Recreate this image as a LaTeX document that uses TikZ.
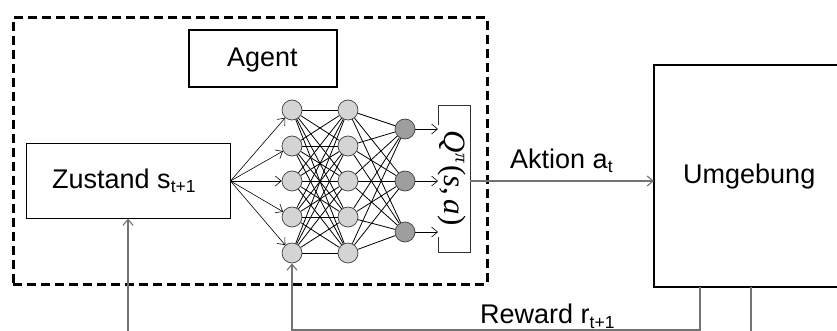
\documentclass[tikz,border=0pt]{standalone}
\usepackage{fontspec}
\setmainfont{Liberation Sans}
\newfontfamily\qserif{Liberation Serif}
\usetikzlibrary{arrows.meta}
\newcommand\mysub[1]{\raisebox{-5pt}{\fontsize{17.5}{17.5}\selectfont #1}}
\begin{document}
\begin{tikzpicture}[x=1pt,y=-1pt,
  every node/.style={font=\fontsize{27}{30}\selectfont},
  lbl/.style={anchor=base west, inner sep=0pt},
  box/.style={draw=black, line width=1pt, inner sep=0pt},
  neuron/.style={circle, draw=black!75, line width=0.7pt, minimum size=20pt, inner sep=0pt, fill=black!17},
  outn/.style={neuron, fill=black!38},
  arr/.style={-{Straight Barb[length=6pt,width=10pt]}, line width=0.6pt},
  conn/.style={line width=0.8pt, black},
  flow/.style={draw=black!55, line width=1.1pt}
]
\useasboundingbox (0,0) rectangle (837,331);

% agent region
\node[draw=black, line width=3pt, dash pattern=on 9pt off 5pt, minimum width=474pt, minimum height=266pt, inner sep=0pt] (agentregion) at (250,151) {};
\node[box, line width=1.3pt, minimum width=148pt, minimum height=57pt] (agent) at (263,58.5) {};
\node[lbl] (agentlbl) at (227,67) {Agent};

% state
\node[box, minimum width=204pt, minimum height=74pt] (zu) at (128,181) {};
\node[lbl] (zulbl) at (52,188) {Zustand s\mysub{t+1}};

% network
\foreach \i/\y in {1/110,2/146,3/181,4/217,5/253}{
  \node[neuron] (i\i) at (292,\y) {};
  \node[neuron] (h\i) at (348,\y) {};
}
\foreach \k/\y in {1/129,2/181,3/232}{
  \node[outn] (o\k) at (405,\y) {};
  \coordinate (q\k) at (438,\y);
}
\foreach \i in {1,...,5}{
  \foreach \j in {1,...,5}{\draw[conn] (i\i) -- (h\j);}
  \foreach \k in {1,2,3}{\draw[conn] (h\i) -- (o\k);}
  \draw[arr] (zu.east) -- (i\i);
}
\foreach \k in {1,2,3}{\draw[arr] (o\k) -- (q\k);}

% Q output box
\draw[line width=1pt, black!80] (438,125) -- (438,106) -- (470,106) -- (470,252) -- (438,252) -- (438,237);
\node[rotate=-90, inner sep=0pt] (qt) at (452,178)
  {\qserif\fontsize{31}{31}\selectfont\itshape Q\kern1pt\raisebox{11pt}{\fontsize{19}{19}\selectfont π}\kern2pt\upshape(\itshape s\upshape,\kern4pt\itshape a\upshape)};

% environment
\draw[line width=1.2pt] (837,65) -- (654,65) -- (654,287) -- (837,287);
\node[lbl] (umglbl) at (683,183) {Umgebung};

% action
\coordinate (ar) at (470,181);
\coordinate (ul) at (654,181);
\draw[arr, flow] (ar) -- (ul);
\node[lbl] (aktlbl) at (510,168) {Aktion a\mysub{t}};

% reward
\coordinate (ub1) at (700,287);
\coordinate (rb) at (700,330);
\coordinate (rl) at (292,330);
\draw[arr, flow] (ub1) -- (rb) -- (rl) -- (i5);
\node[lbl] (rwlbl) at (480,323) {Reward r\mysub{t+1}};

% state feedback
\coordinate (ub2) at (751,287);
\coordinate (ub2e) at (751,333);
\draw[flow] (ub2) -- (ub2e);
\coordinate (zin) at (128,333);
\draw[arr, flow] (zin) -- (zu.south);
\end{tikzpicture}
\end{document}
